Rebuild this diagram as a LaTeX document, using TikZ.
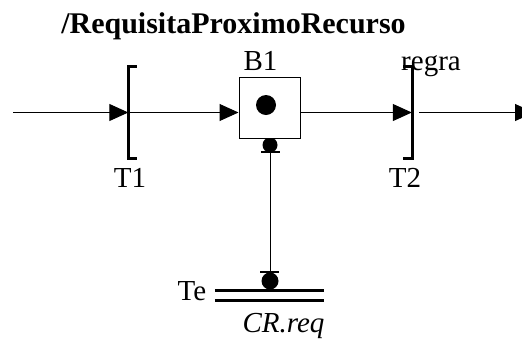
\documentclass[tikz,border=0pt]{standalone}
\usepackage{fontspec}
\setmainfont{Liberation Serif}
\usetikzlibrary{arrows.meta}
\begin{document}
\begin{tikzpicture}[x=1pt,y=-1pt,
  arc/.style={line width=1pt,-{Triangle[length=19pt,width=17pt]}},
  lbl/.style={inner sep=0pt,anchor=base,font=\fontsize{29}{29}\selectfont},
  bar/.style={inner sep=0pt,minimum width=0pt,minimum height=92pt},
  brk/.style={line width=3pt,line cap=butt,line join=miter},
  placebox/.style={draw,line width=1pt,fill=white,minimum width=61pt,minimum height=61pt,inner sep=0pt},
  tok/.style={fill=black,circle,inner sep=0pt},
  pool/.style={inner sep=0pt,minimum width=109pt,minimum height=12pt}]
\useasboundingbox (0,0) rectangle (522,341);
\clip (0,0) rectangle (522,341);

% title
\node[lbl,font=\bfseries\fontsize{30}{30}\selectfont] (title) at (233.5,33) {/RequisitaProximoRecurso};

% transitions
\node[bar] (t1) at (128.5,112.5) {};
\draw[brk] ([xshift=8pt]t1.north) -- (t1.north) -- (t1.south) -- ([xshift=8pt]t1.south);
\node[bar] (t2) at (412,112.5) {};
\draw[brk] ([xshift=-9pt]t2.north) -- (t2.north) -- (t2.south) -- ([xshift=-9pt]t2.south);

% inhibitor/test marks (drawn before box so box covers upper half)
\node[tok,minimum size=15pt] (dA) at (270,145) {};
\node[placebox] (b1) at (269.5,107.5) {};
\node[tok,minimum size=20pt] (tokB1) at (266,105) {};

\coordinate (inhA) at (270,152);
\coordinate (inhB) at (270,272);
\draw[line width=1.5pt] ([xshift=-9pt]inhA) -- ([xshift=10pt]inhA);
\draw[line width=1pt] (inhA) -- (inhB);
\draw[line width=1.5pt] ([xshift=-10pt]inhB) -- ([xshift=9pt]inhB);
\node[tok,minimum size=17pt] (dB) at (270,281) {};

% double-line place Te
\node[pool] (te) at (269.5,295.5) {};
\draw[line width=3pt] ([yshift=-1.5pt]te.north west) -- ([yshift=-1.5pt]te.north east);
\draw[line width=3pt] ([yshift=1.5pt]te.south west) -- ([yshift=1.5pt]te.south east);

% connectors
\coordinate (in) at (13,112.5);
\coordinate (out) at (534,112.5);
\draw[arc] (in) -- (t1);
\draw[arc] (t1) -- (b1.west |- t1);
\draw[arc] (b1.east |- t2) -- (t2);
\draw[arc] ([xshift=7pt]t2.center) -- (out);

% labels
\node[lbl] (lb1) at (260.5,70) {B1};
\node[lbl] (lregra) at (431,70) {regra};
\node[lbl] (lt1) at (130,187) {T1};
\node[lbl] (lt2) at (405,187) {T2};
\node[lbl] (lte) at (192,300) {Te};
\node[lbl,font=\itshape\fontsize{29}{29}\selectfont] (lcr) at (283.5,332) {CR.req};
\end{tikzpicture}
\end{document}
